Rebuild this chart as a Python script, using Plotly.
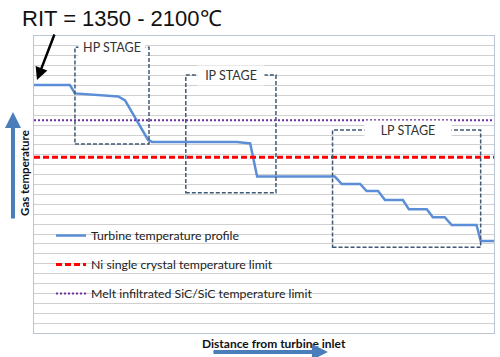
import plotly.graph_objects as go

# ---- data (x: relative distance from turbine inlet 0-100, y: relative gas temperature 0-30)
profile_x = [0, 7.8, 8.9, 14.3, 18.3, 19.8, 24.8, 25.7, 44.1, 47.0, 48.5, 65.4, 66.9, 70.9,
             72.3, 74.8, 76.3, 80.2, 81.5, 85.4, 86.7, 89.3, 90.8, 96.2, 97.1, 100]
profile_y = [25.05, 25.05, 24.2, 24.0, 23.9, 23.5, 19.5, 19.3, 19.3, 19.15, 15.8, 15.8, 15.05, 15.05,
             14.34, 14.34, 13.43, 13.43, 12.49, 12.49, 11.69, 11.69, 10.91, 10.91, 9.29, 9.29]
ni_limit = 17.75
sic_limit = 21.5
limit_x = [0, 100]

stage_names = ["HP STAGE", "IP STAGE", "LP STAGE"]
stage_x0 = [8.9, 33.0, 64.9]
stage_x1 = [25.0, 52.6, 97.1]
stage_y0 = [19.09, 14.17, 8.66]
stage_y1 = [28.86, 26.06, 20.5]
stage_label_x = [16.96, 42.8, 81.3]
stage_label_w = [62, 62, 82]

legend_names = ["Turbine temperature profile",
                "Ni single crystal temperature limit",
                "Melt infiltrated SiC/SiC temperature limit"]

fig = go.Figure()
fig.add_trace(go.Scatter(x=profile_x, y=profile_y, mode="lines", name=legend_names[0],
                         legendgroup="a", line=dict(color="#5B8ED6", width=2.5)))
fig.add_trace(go.Scatter(x=limit_x, y=[ni_limit, ni_limit], mode="lines", name=legend_names[1],
                         legendgroup="b", line=dict(color="#FF0000", width=3, dash="6px,3px")))
fig.add_trace(go.Scatter(x=limit_x, y=[sic_limit, sic_limit], mode="lines", name=legend_names[2],
                         legendgroup="c", line=dict(color="#7030A0", width=2, dash="2px,2px")))

shapes = []
annotations = []
for name, x0, x1, y0, y1, lx, lw in zip(stage_names, stage_x0, stage_x1, stage_y0, stage_y1,
                                         stage_label_x, stage_label_w):
    shapes.append(dict(type="rect", xref="x", yref="y", x0=x0, x1=x1, y0=y0, y1=y1,
                       line=dict(color="#3F5873", width=1.5, dash="4px,2px"), layer="above"))
    annotations.append(dict(x=lx, y=y1, xref="x", yref="y", text=name, showarrow=False,
                            bgcolor="white", width=lw, borderpad=2,
                            font=dict(family="Lato", size=12.5, color="#333333"),
                            xanchor="center", yanchor="middle"))

# legend background box
shapes.append(dict(type="rect", xref="paper", yref="paper", x0=0.0674, x1=0.604, y0=0.104, y1=0.370,
                   fillcolor="white", line=dict(width=0), layer="between"))

# title with arrow
annotations.append(dict(x=-0.0304, y=1.0606, xref="paper", yref="paper", text="RIT = 1350 - 2100℃",
                        showarrow=False, xanchor="left", yanchor="middle",
                        font=dict(family="Liberation Sans", size=22, color="#111111")))
annotations.append(dict(x=0.0065, y=0.852, xref="paper", yref="paper", text="", showarrow=True,
                        ax=18, ay=-47, arrowhead=2, arrowsize=1, arrowwidth=2.5, arrowcolor="black"))
# axis titles with arrows
annotations.append(dict(x=-0.0196, y=0.539, xref="paper", yref="paper", text="<b>Gas temperature</b>",
                        textangle=-90, showarrow=False, xanchor="center", yanchor="middle",
                        font=dict(family="Lato", size=11.5, color="#111111")))
annotations.append(dict(x=-0.0457, y=0.744, xref="paper", yref="paper", text="", showarrow=True,
                        ax=0, ay=108, arrowhead=2, arrowsize=0.8, arrowwidth=4, arrowcolor="#4A7EBB"))
annotations.append(dict(x=0.522, y=-0.034, xref="paper", yref="paper", text="<b>Distance from turbine inlet</b>",
                        showarrow=False, xanchor="center", yanchor="middle",
                        font=dict(family="Lato", size=12, color="#111111")))
annotations.append(dict(x=0.639, y=-0.064, xref="paper", yref="paper", text="", showarrow=True,
                        ax=-116, ay=0, arrowhead=2, arrowsize=0.8, arrowwidth=4, arrowcolor="#4A7EBB"))

fig.update_layout(
    width=500, height=357,
    margin=dict(l=34, r=6, t=36, b=24),
    paper_bgcolor="white", plot_bgcolor="white",
    showlegend=True,
    legend=dict(x=0.037, y=0.377, xanchor="left", yanchor="top", bgcolor="rgba(0,0,0,0)",
                traceorder="grouped", tracegroupgap=10,
                font=dict(family="Lato", size=12.3, color="#222222")),
    shapes=shapes, annotations=annotations,
    xaxis=dict(range=[0, 100], showgrid=False, zeroline=False, showticklabels=False, ticks="",
               showline=True, mirror=True, linecolor="#BCC6D3", linewidth=1),
    yaxis=dict(range=[0, 30], dtick=1, showgrid=True, gridcolor="#D0D0D0", gridwidth=1,
               zeroline=False, showticklabels=False, ticks="",
               showline=True, mirror=True, linecolor="#BCC6D3", linewidth=1),
)

fig.write_html("out.html", config={"displayModeBar": False},
               post_script="document.body.style.margin='0px';document.body.style.overflow='hidden';")
